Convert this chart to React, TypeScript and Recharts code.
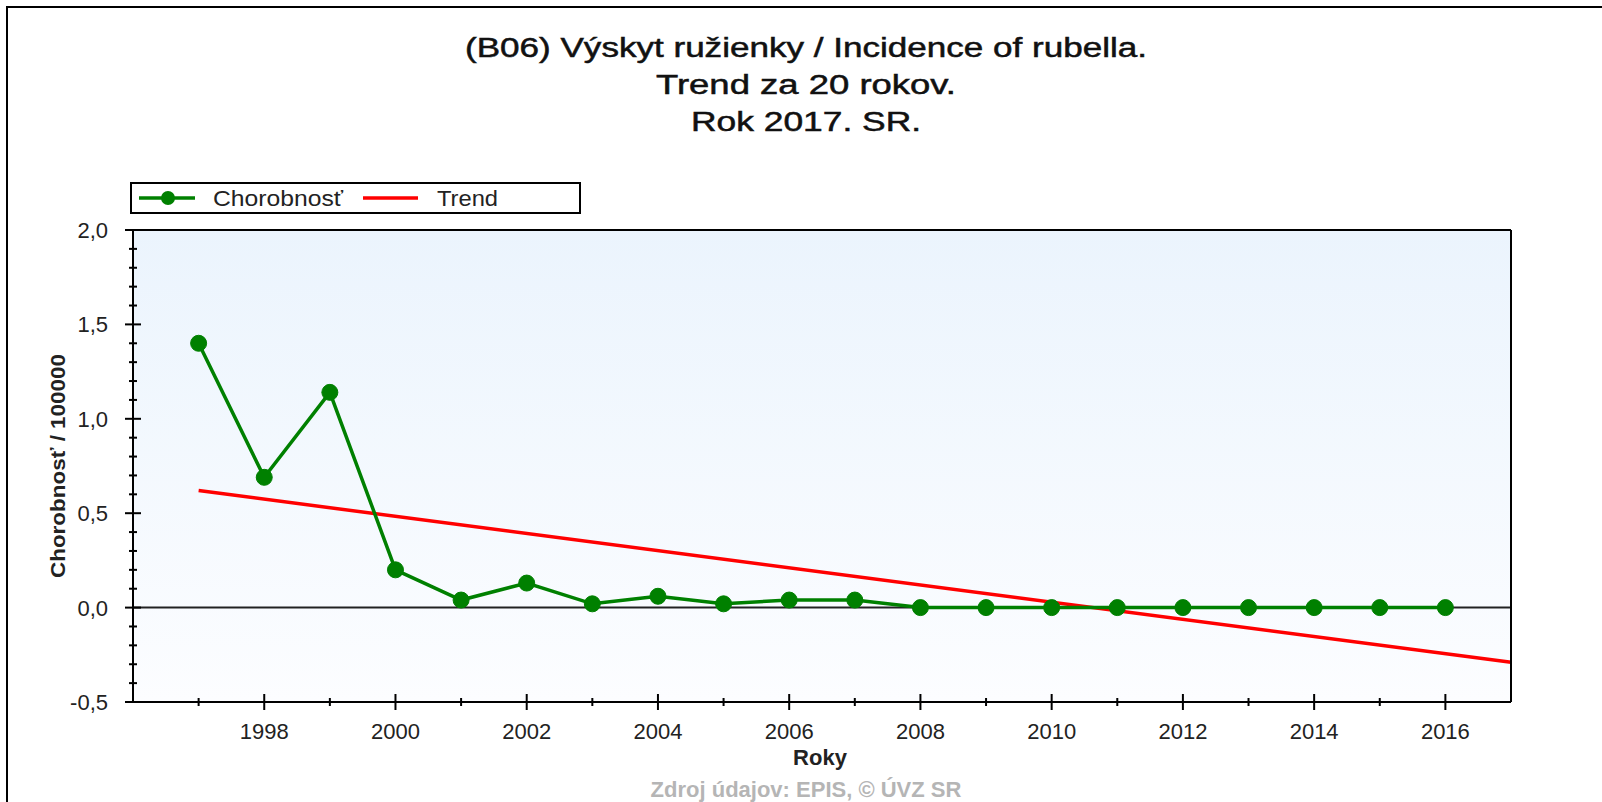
import { CartesianGrid, Line, LineChart, ReferenceLine, XAxis, YAxis } from "recharts";

const years = [1997, 1998, 1999, 2000, 2001, 2002, 2003, 2004, 2005, 2006, 2007, 2008, 2009, 2010, 2011, 2012, 2013, 2014, 2015, 2016];
const incidence = [1.4, 0.69, 1.14, 0.2, 0.04, 0.13, 0.02, 0.06, 0.02, 0.04, 0.04, 0, 0, 0, 0, 0, 0, 0, 0, 0];

// trend line as printed: endpoints only
const trendYears = [1997, 2017];
const trendValues = [0.62, -0.29];

const xMajorTicks = [1998, 2000, 2002, 2004, 2006, 2008, 2010, 2012, 2014, 2016];
const xMinorTicks = [1997, 1999, 2001, 2003, 2005, 2007, 2009, 2011, 2013, 2015];
const yMajorTicks = [-0.5, 0, 0.5, 1, 1.5, 2];
const yMinorTicks = [-0.4, -0.3, -0.2, -0.1, 0.1, 0.2, 0.3, 0.4, 0.6, 0.7, 0.8, 0.9, 1.1, 1.2, 1.3, 1.4, 1.6, 1.7, 1.8, 1.9];

const titleLines = ["(B06) Výskyt ružienky / Incidence of rubella.", "Trend za 20 rokov.", "Rok 2017. SR."];
const titleWidths = [682, 300, 230];

const FONT = "'Liberation Sans', Arial, sans-serif";
const GREEN = "#008000";
const RED = "#ff0000";

const incidenceData = years.map((year, i) => ({ year, value: incidence[i] }));
const trendData = trendYears.map((year, i) => ({ year, value: trendValues[i] }));

const fmt = (v: number) => v.toFixed(1).replace(".", ",");

type TickProps = { x?: number; y?: number; payload?: { value: number } };

function LeftTick({ x = 0, y = 0, payload }: TickProps) {
  const v = payload?.value ?? 0;
  const major = yMajorTicks.includes(v);
  return (
    <g>
      <line x1={x - (major ? 8 : 4)} x2={x + (major ? 8 : 4)} y1={y} y2={y} stroke="#000" strokeWidth={2} />
      {major && (
        <text x={x - 25} y={y} dy="0.36em" textAnchor="end" fontSize={22} fontFamily={FONT} fill="#222">
          {fmt(v)}
        </text>
      )}
    </g>
  );
}

function RightTick({ x = 0, y = 0, payload }: TickProps) {
  const v = payload?.value ?? 0;
  const major = yMajorTicks.includes(v);
  return (
    <g>
      <line x1={x - (major ? 8 : 4)} x2={x + (major ? 8 : 4)} y1={y} y2={y} stroke="#000" strokeWidth={2} />
      {major && (
        <text x={x + 18} y={y} dy="0.36em" textAnchor="start" fontSize={22} fontFamily={FONT} fill="#222">
          {fmt(v)}
        </text>
      )}
    </g>
  );
}

function BottomTick({ x = 0, y = 0, payload }: TickProps) {
  const v = payload?.value ?? 0;
  const major = xMajorTicks.includes(v);
  return (
    <g>
      <line x1={x} x2={x} y1={y - (major ? 8 : 4)} y2={y + (major ? 8 : 4)} stroke="#000" strokeWidth={2} />
      {major && (
        <text x={x} y={y + 37} textAnchor="middle" fontSize={22} fontFamily={FONT} fill="#222">
          {v}
        </text>
      )}
    </g>
  );
}

function TopTick({ x = 0, y = 0, payload }: TickProps) {
  const v = payload?.value ?? 0;
  const major = xMajorTicks.includes(v);
  return <line x1={x} x2={x} y1={y} y2={y + (major ? 9 : 5)} stroke="#000" strokeWidth={2} />;
}

export default function App() {
  const xTicks = [...xMinorTicks, ...xMajorTicks].sort((a, b) => a - b);
  const yTicks = [...yMinorTicks, ...yMajorTicks].sort((a, b) => a - b);
  const axisLine = { stroke: "#000", strokeWidth: 2 };

  return (
    <div style={{ position: "absolute", left: 0, top: 0, width: 1602, height: 802, background: "#fff", overflow: "hidden" }}>
      <LineChart width={1602} height={802} margin={{ top: 210, right: 31, bottom: 60, left: 73 }}>
        <defs>
          <linearGradient id="plotBg" x1="0" y1="0" x2="0" y2="1">
            <stop offset="0%" stopColor="#ebf4fd" />
            <stop offset="100%" stopColor="#fcfdff" />
          </linearGradient>
        </defs>
        <CartesianGrid horizontal={false} vertical={false} fill="url(#plotBg)" stroke="none" />
        <XAxis
          dataKey="year"
          type="number"
          domain={[1996, 2017]}
          ticks={xTicks}
          interval={0}
          height={40}
          tickSize={0}
          tickMargin={0}
          axisLine={axisLine}
          tickLine={false}
          tick={(p: TickProps) => <BottomTick {...p} />}
        />
        <XAxis
          xAxisId="top"
          orientation="top"
          dataKey="year"
          type="number"
          domain={[1996, 2017]}
          ticks={xTicks}
          interval={0}
          height={20}
          tickSize={0}
          tickMargin={0}
          axisLine={axisLine}
          tickLine={false}
          tick={(p: TickProps) => <TopTick {...p} />}
        />
        <YAxis
          type="number"
          domain={[-0.5, 2]}
          ticks={yTicks}
          interval={0}
          width={60}
          tickSize={0}
          tickMargin={0}
          axisLine={axisLine}
          tickLine={false}
          tick={(p: TickProps) => <LeftTick {...p} />}
        />
        <YAxis
          yAxisId="right"
          orientation="right"
          type="number"
          domain={[-0.5, 2]}
          ticks={yTicks}
          interval={0}
          width={60}
          tickSize={0}
          tickMargin={0}
          axisLine={axisLine}
          tickLine={false}
          tick={(p: TickProps) => <RightTick {...p} />}
        />
        <ReferenceLine y={0} stroke="#222" strokeWidth={2} />
        <Line
          data={trendData}
          dataKey="value"
          stroke={RED}
          strokeWidth={3.5}
          dot={false}
          activeDot={false}
          isAnimationActive={false}
        />
        <Line
          data={incidenceData}
          dataKey="value"
          stroke={GREEN}
          strokeWidth={3.5}
          dot={{ r: 8, fill: GREEN, stroke: GREEN, strokeWidth: 1 }}
          activeDot={false}
          isAnimationActive={false}
        />
      </LineChart>

      <svg
        width={1602}
        height={802}
        style={{ position: "absolute", left: 0, top: 0, pointerEvents: "none" }}
        fontFamily={FONT}
      >
        <line x1={7} y1={6} x2={7} y2={802} stroke="#000" strokeWidth={2} />
        <line x1={6} y1={7} x2={1602} y2={7} stroke="#000" strokeWidth={2} />

        {titleLines.map((t, i) => (
          <text
            key={t}
            x={806}
            y={57 + i * 37}
            textAnchor="middle"
            fontSize={27}
            fill="#111"
            stroke="#111"
            strokeWidth={0.5}
            textLength={titleWidths[i]}
            lengthAdjust="spacingAndGlyphs"
          >
            {t}
          </text>
        ))}

        <rect x={131} y={183} width={449} height={30} fill="#fff" stroke="#000" strokeWidth={2} />
        <line x1={139} x2={195} y1={198} y2={198} stroke={GREEN} strokeWidth={3.5} />
        <circle cx={168} cy={198} r={7} fill={GREEN} />
        <text x={213} y={206} fontSize={22} fill="#222" textLength={130} lengthAdjust="spacingAndGlyphs">
          Chorobnosť
        </text>
        <line x1={363} x2={418} y1={198} y2={198} stroke={RED} strokeWidth={3.5} />
        <text x={437} y={206} fontSize={22} fill="#222" textLength={61} lengthAdjust="spacingAndGlyphs">
          Trend
        </text>

        <text
          x={57}
          y={466}
          dy="0.36em"
          transform="rotate(-90 57 466)"
          textAnchor="middle"
          fontSize={21}
          fontWeight="bold"
          fill="#222"
          textLength={224}
          lengthAdjust="spacingAndGlyphs"
        >
          Chorobnosť / 100000
        </text>
        <text x={820} y={765} textAnchor="middle" fontSize={22} fontWeight="bold" fill="#222">
          Roky
        </text>
        <text x={806} y={797} textAnchor="middle" fontSize={22} fontWeight="bold" fill="#b5b5b5">
          Zdroj údajov: EPIS, © ÚVZ SR
        </text>
      </svg>
    </div>
  );
}
